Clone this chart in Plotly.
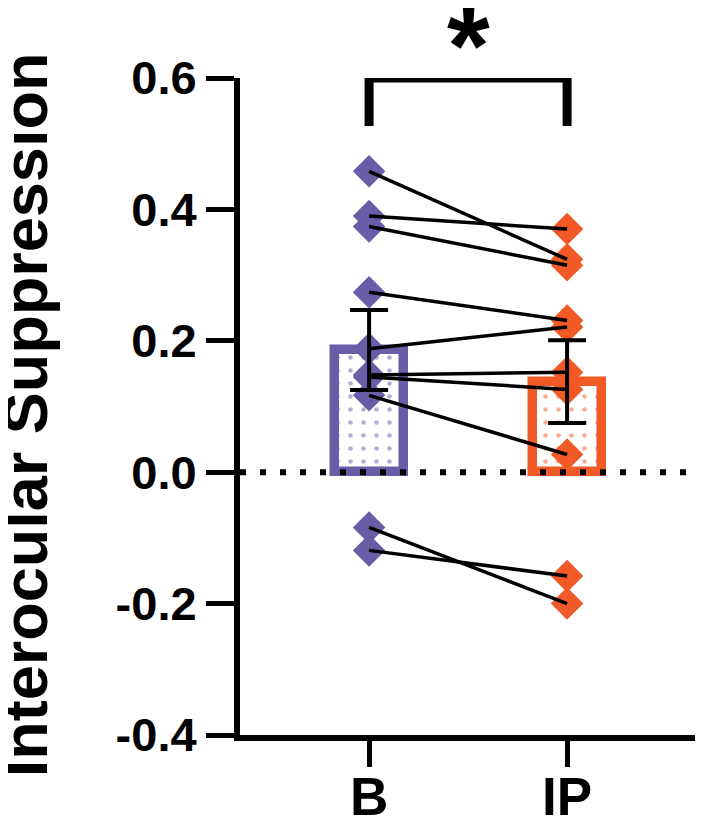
import plotly.graph_objects as go

# ---- data ----
categories = ["B", "IP"]
b_values = [0.458, 0.390, 0.374, 0.274, 0.188, 0.148, 0.145, 0.117, -0.084, -0.119]
ip_values = [0.324, 0.370, 0.315, 0.231, 0.221, 0.152, 0.126, 0.027, -0.200, -0.158]
bar_means = [0.186, 0.138]
bar_sem = [0.061, 0.063]
y_ticks = [-0.4, -0.2, 0.0, 0.2, 0.4, 0.6]
y_title = "Interocular Suppression"
sig_label = "*"

PURPLE = "#6B5CA8"
ORANGE = "#F15A27"
colors = [PURPLE, ORANGE]
FONT = "Liberation Sans, Arial, sans-serif"

xpos = list(range(len(categories)))

fig = go.Figure()

# bars with dotted pattern
fig.add_trace(go.Bar(
    x=xpos, y=bar_means, width=0.348,
    marker=dict(
        color="white",
        line=dict(color=colors, width=9.5),
        pattern=dict(shape=".", fgcolor=colors, bgcolor="white", size=13, solidity=0.1),
    ),
    showlegend=False, hoverinfo="skip",
))

# diamonds
fig.add_trace(go.Scatter(
    x=[xpos[0]] * len(b_values), y=b_values, mode="markers",
    marker=dict(symbol="diamond", size=25, color=PURPLE, line=dict(width=0)),
    showlegend=False, cliponaxis=False,
))
fig.add_trace(go.Scatter(
    x=[xpos[1]] * len(ip_values), y=ip_values, mode="markers",
    marker=dict(symbol="diamond", size=25, color=ORANGE, line=dict(width=0)),
    showlegend=False, cliponaxis=False,
))

# paired lines
lx, ly = [], []
for b, ip in zip(b_values, ip_values):
    lx += [xpos[0], xpos[1], None]
    ly += [b, ip, None]
fig.add_trace(go.Scatter(
    x=lx, y=ly, mode="lines", line=dict(color="black", width=3.5),
    showlegend=False, hoverinfo="skip",
))

# error bars (SEM)
fig.add_trace(go.Scatter(
    x=xpos, y=bar_means, mode="markers",
    marker=dict(size=1, color="rgba(0,0,0,0)"),
    error_y=dict(type="data", array=bar_sem, visible=True, color="black",
                 thickness=4, width=19),
    showlegend=False, hoverinfo="skip",
))

# significance bracket
fig.add_trace(go.Scatter(
    x=[xpos[0], xpos[0], xpos[1], xpos[1]],
    y=[0.527, 0.6, 0.6, 0.527],
    mode="lines", line=dict(color="black", width=9),
    cliponaxis=False, showlegend=False, hoverinfo="skip",
))

fig.add_annotation(
    x=(xpos[0] + xpos[1]) / 2, xref="x", y=1, yref="paper",
    yanchor="middle", yshift=34, text=sig_label, showarrow=False,
    font=dict(family=FONT, size=110, color="black", weight="bold"),
)

# y title
fig.add_annotation(
    x=-0.473, xref="paper", y=0.5, yref="paper", yshift=-8,
    xanchor="center", yanchor="middle", textangle=-90,
    text=y_title, showarrow=False,
    font=dict(family=FONT, size=63, color="black", weight="bold"),
)

# dotted zero line
fig.add_shape(
    type="line", xref="x domain", x0=0, x1=1, yref="y", y0=0, y1=0,
    line=dict(color="black", width=6, dash="6px,14px"), layer="above",
)

# page body keeps an 8px margin, so the figure is sized to fit inside it
fig.update_layout(
    width=693, height=807,
    margin=dict(l=232, r=6, t=70, b=80, autoexpand=False),
    paper_bgcolor="white", plot_bgcolor="white",
    bargap=0,
    xaxis=dict(
        range=[-0.652, 1.646], tickvals=xpos, ticktext=categories,
        showline=True, linecolor="black", linewidth=6,
        ticks="outside", ticklen=26, tickwidth=5, tickcolor="black",
        showgrid=False, zeroline=False, automargin=False,
        ticklabelstandoff=-16,
        tickfont=dict(family=FONT, size=53, color="black", weight="bold"),
    ),
    yaxis=dict(
        range=[-0.4, 0.6], tickvals=y_ticks,
        ticktext=[f"{v:.1f}" for v in y_ticks],
        showline=True, linecolor="black", linewidth=6,
        ticks="outside", ticklen=28, tickwidth=5, tickcolor="black",
        showgrid=False, zeroline=False, automargin=False,
        tickfont=dict(family=FONT, size=47, color="black", weight="bold"),
    ),
)

fig.write_html("out.html")
